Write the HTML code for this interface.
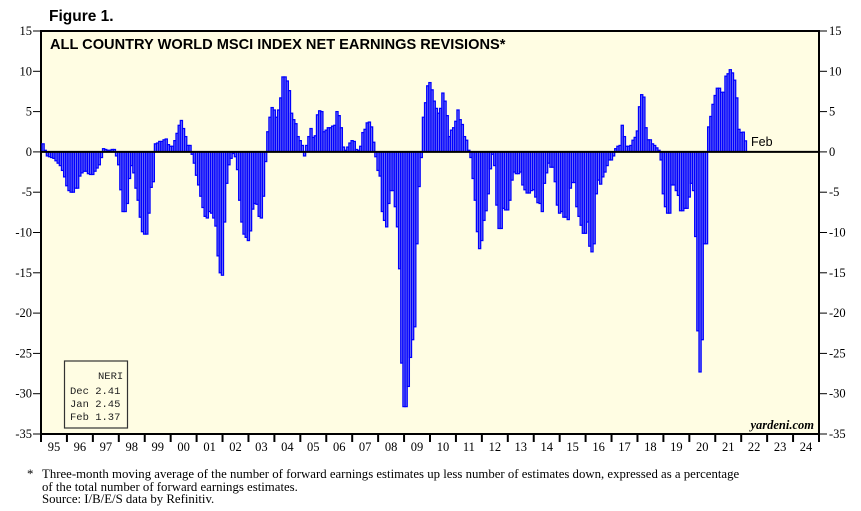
<!DOCTYPE html>
<html><head><meta charset="utf-8"><style>
body{margin:0;background:#fff;width:861px;height:511px;overflow:hidden;}
svg{display:block}
</style></head><body>
<svg id="chart" width="861" height="511" xmlns="http://www.w3.org/2000/svg">
<text x="49" y="21" font-family="Liberation Sans, sans-serif" font-weight="bold" font-size="15.5">Figure 1.</text>
<rect x="41" y="31" width="778" height="403" fill="#fffde3" stroke="#000" stroke-width="2"/>
<text x="50" y="49" font-family="Liberation Sans, sans-serif" font-weight="bold" font-size="14.6">ALL COUNTRY WORLD MSCI INDEX NET EARNINGS REVISIONS*</text>
<g id="bars"></g>
<g id="axes"></g>
<text x="751" y="146" font-family="Liberation Sans, sans-serif" font-size="12.5">Feb</text>
<text x="814" y="429" text-anchor="end" font-family="Liberation Serif, serif" font-style="italic" font-weight="bold" font-size="12.5">yardeni.com</text>
<g>
<rect x="64.5" y="361" width="63" height="67" fill="#fffde3" stroke="#333" stroke-width="1.2"/>
<g font-family="Liberation Mono, monospace" font-size="10.5" fill="#222">
<text x="98" y="379">NERI</text>
<text x="70" y="394">Dec  2.41</text>
<text x="70" y="407">Jan  2.45</text>
<text x="70" y="420">Feb  1.37</text>
</g></g>
<g font-family="Liberation Serif, serif" font-size="12.8" fill="#000">
<text x="27" y="478">*</text>
<text x="42" y="478">Three-month moving average of the number of forward earnings estimates up less number of estimates down, expressed as a percentage</text>
<text x="42" y="491">of the total number of forward earnings estimates.</text>
<text x="42" y="503">Source: I/B/E/S data by Refinitiv.</text>
</g>
</svg>
<script>
const yTicks=[15,10,5,0,-5,-10,-15,-20,-25,-30,-35];
const yearLabels=["95","96","97","98","99","00","01","02","03","04","05","06","07","08","09","10","11","12","13","14","15","16","17","18","19","20","21","22","23","24"];
const startYear=1995;
const neri=[
1.0,0.2,-0.5,-0.6,-0.7,-0.8,-1.1,-1.4,-1.7,-2.3,-3.1,-4.2,
-4.8,-5.0,-5.0,-4.5,-4.5,-3.0,-2.6,-2.4,-2.4,-2.7,-2.8,-2.8,
-2.4,-2.0,-1.6,-0.7,0.4,0.3,0.2,0.2,0.3,0.3,-0.5,-1.6,
-4.7,-7.4,-7.4,-6.4,-3.3,-1.7,-2.6,-4.5,-6.0,-8.1,-9.9,-10.2,
-10.2,-7.6,-4.4,-3.7,1.0,1.1,1.3,1.3,1.5,1.6,0.9,0.7,
0.7,1.4,2.3,3.3,3.9,2.9,1.9,0.8,0.8,
-0.3,-1.4,-2.9,-4.1,-5.5,-6.9,-8.0,-8.2,-7.4,-7.6,-8.2,-9.2,-12.9,-15.0,-15.3,-8.7,-3.9,-1.6,-0.8,-0.2,-0.6,-2.2,-6.0,-8.7,-10.2,-10.6,-11.0,-9.8,-7.1,-6.4,-6.5,-8.0,-8.2,-5.5,-1.2,
2.5,4.3,5.5,5.2,4.3,5.2,6.7,9.3,9.3,8.8,7.6,4.8,4.0,3.5,1.9,1.4,0.8,-0.5,0.8,1.9,
2.9,1.8,2.0,4.6,5.1,5.0,2.5,2.7,3.0,3.0,3.2,3.3,5.0,4.5,3.0,0.6,0.2,0.6,1.1,1.4,1.3,0.3,0.2,0.7,2.4,2.8,3.6,3.7,3.1,1.2,
-0.6,-2.3,-3.0,-7.4,-8.5,-9.3,-6.4,-4.8,-4.8,-6.8,-9.3,-14.5,-26.2,-31.6,-31.6,-29.1,-25.5,-23.3,-21.7,-11.4,-4.3,-0.7,
4.3,6.1,8.2,8.6,7.7,6.3,5.4,4.8,5.4,7.3,6.3,4.5,1.9,2.7,3.0,3.8,5.2,4.0,3.4,1.9,1.45,0.2,
-0.7,-3.3,-6.0,-9.9,-12.0,-11.0,-8.5,-7.3,-5.2,-2.1,
-0.3,-1.7,-6.6,-9.5,-9.5,-7.0,-7.2,-7.2,-6.0,-3.5,
-2.5,-2.7,-2.7,-2.5,-4.1,-4.7,-5.1,-5.1,-4.8,-4.7,
-5.6,-6.3,-6.4,-7.4,-3.9,-2.6,-1.4,-1.9,-1.9,-3.7,
-6.6,-7.6,-7.4,-8.1,-8.1,-8.4,-4.5,-3.8,-3.8,-6.8,
-8.0,-9.1,-10.1,-10.1,-8.7,-11.7,-12.4,-11.4,-5.2,-3.5,
-4.0,-3.1,-2.5,-1.7,-1.0,-1.0,-0.5,
0.4,0.7,0.8,3.3,1.9,0.7,0.7,0.8,1.45,1.8,2.6,5.6,7.1,6.8,3.0,1.5,1.5,1.0,0.8,0.5,0.2,
-1.0,-5.2,-6.8,-7.6,-7.6,-4.1,-4.1,-4.8,-5.4,-7.3,-7.3,-7.0,-7.0,-5.6,-3.9,-4.8,-10.5,-22.2,-27.3,-23.3,-11.4,-11.4,
3.1,4.4,5.9,7.0,7.9,7.9,7.4,7.4,9.4,9.7,10.2,9.8,8.9,6.7,2.8,2.41,2.45,1.37
];
const NS="http://www.w3.org/2000/svg";
const L=41,R=819,T=31,B=434,yMax=15,yMin=-35;
const yearW=(R-L)/yearLabels.length, monthW=yearW/12;
function ys(v){return T+(yMax-v)/(yMax-yMin)*(B-T);}
function xs(i){return L+1+i*monthW;}
function mk(tag,attrs,parent){const e=document.createElementNS(NS,tag);for(const k in attrs)e.setAttribute(k,attrs[k]);parent.appendChild(e);return e;}
const bars=document.getElementById('bars'), axes=document.getElementById('axes');
const y0=ys(0);
neri.forEach((v,i)=>{
  const y=ys(v);
  const r=mk('rect',{x:xs(i).toFixed(2),y:Math.min(y,y0).toFixed(2),width:monthW.toFixed(2),height:Math.max(Math.abs(y-y0),0.3).toFixed(2),fill:'#7676f2',stroke:'#0000ff','stroke-width':'1.25'},bars);
  
  
});
const zl=mk('line',{x1:L,x2:R,y1:y0,y2:y0,stroke:'#000','stroke-width':2},axes);


yTicks.forEach(t=>{
  const y=ys(t);
  mk('line',{x1:L-8,x2:L,y1:y,y2:y,stroke:'#000','stroke-width':1},axes);
  mk('line',{x1:R,x2:R+8,y1:y,y2:y,stroke:'#000','stroke-width':1},axes);
  const a=mk('text',{x:L-9,y:y+4,'text-anchor':'end','font-family':'Liberation Serif, serif','font-size':12.5},axes);a.textContent=String(t);
  
  
  const b=mk('text',{x:R+10,y:y+4,'font-family':'Liberation Serif, serif','font-size':12.5},axes);b.textContent=String(t);
  
  
});
for(let k=0;k<=yearLabels.length;k++){
  const x=L+k*yearW;
  mk('line',{x1:x,x2:x,y1:B,y2:B+8,stroke:'#000','stroke-width':2},axes);
}
yearLabels.forEach((lab,k)=>{
  const t=mk('text',{x:L+(k+0.5)*yearW,y:B+17,'text-anchor':'middle','font-family':'Liberation Serif, serif','font-size':12.5},axes);
  t.textContent=lab;
  
  
});
</script>
</body></html>
